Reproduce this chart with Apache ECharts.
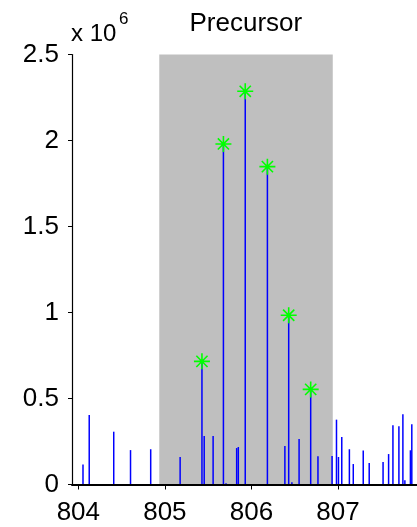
<!DOCTYPE html>
<html>
<head>
<meta charset="utf-8">
<script src="https://cdn.jsdelivr.net/npm/echarts@6/dist/echarts.min.js"></script>
<style>
html,body{margin:0;padding:0;background:#fff;}
#chart{width:417px;height:527px;}
</style>
</head>
<body>
<div id="chart"></div>
<script>
// m/z positions of all centroid peaks
const mz = [804.054, 804.126, 804.409, 804.603, 804.836, 805.176, 805.428, 805.454, 805.557, 805.676,
  805.706, 805.829, 805.848, 805.928, 806.184, 806.386, 806.430, 806.467, 806.550, 806.684,
  806.768, 806.931, 806.982, 807.005, 807.043, 807.131, 807.176, 807.291, 807.360, 807.520,
  807.584, 807.634, 807.703, 807.749, 807.772, 807.836, 807.852];
// intensities of all centroid peaks
const intensity = [117000, 404000, 307000, 200000, 205000, 160000, 716000, 282000, 282000, 1980000,
  7000, 212000, 218000, 2286000, 1848000, 224000, 984000, 13000, 265000, 553000,
  164000, 166000, 377000, 160000, 276000, 205000, 119000, 197000, 125000, 131000,
  177000, 344000, 338000, 408000, 24000, 199000, 350000];
// precursor isotope peaks (marked with asterisks)
const peakMz = [805.428, 805.676, 805.928, 806.184, 806.430, 806.684];
const peakIntensity = [716000, 1980000, 2286000, 1848000, 984000, 553000];
// isolation window
const windowMz = [804.935, 806.939];
// axis ticks
const xTicks = [804, 805, 806, 807];
const yTicks = [0, 500000, 1000000, 1500000, 2000000, 2500000];
const title = 'Precursor';

const font = "'Liberation Sans', Arial, Helvetica, sans-serif";
const chart = echarts.init(document.getElementById('chart'), null, {renderer: 'canvas'});

const stemData = mz.map((m, i) => [m, intensity[i]]);
const starData = peakMz.map((m, i) => [m, peakIntensity[i]]);

chart.setOption({
  animation: false,
  backgroundColor: '#ffffff',
  grid: {left: 72, top: 54.5, width: 348, height: 430},
  xAxis: {
    type: 'value', min: 803.927, max: 807.912, z: 10,
    axisLine: {show: true, onZero: false, lineStyle: {color: '#000', width: 2}},
    axisTick: {show: true, inside: false, length: 5, customValues: xTicks, lineStyle: {color: '#000', width: 1}},
    axisLabel: {customValues: xTicks, margin: 15, fontSize: 26, color: '#000', fontFamily: font,
      formatter: v => String(v)},
    splitLine: {show: false}
  },
  yAxis: {
    type: 'value', min: 0, max: 2500000, interval: 500000, z: 10,
    axisLine: {show: true, lineStyle: {color: '#000', width: 1.2}},
    axisTick: {show: true, inside: false, length: 4, lineStyle: {color: '#000', width: 1}},
    axisLabel: {margin: 13, fontSize: 26, color: '#000', fontFamily: font,
      formatter: v => String(+(v / 1e6).toFixed(1))},
    splitLine: {show: false}
  },
  graphic: [
    {type: 'text', left: 245.5 - 56, top: 11, z: 20,
      style: {text: title, fontSize: 26, fontFamily: font, fill: '#000', textAlign: 'left'}},
    {type: 'text', left: 71, top: 22, z: 20,
      style: {text: 'x 10', fontSize: 24, fontFamily: font, fill: '#000'}},
    {type: 'text', left: 119, top: 11, z: 20,
      style: {text: '6', fontSize: 17, fontFamily: font, fill: '#000'}}
  ],
  series: [
    {
      type: 'line', data: [], z: 1, silent: true,
      markArea: {
        silent: true,
        itemStyle: {color: '#bfbfbf'},
        data: [[{xAxis: windowMz[0], yAxis: 0}, {xAxis: windowMz[1], yAxis: 2500000}]]
      }
    },
    {
      type: 'custom', z: 3, data: stemData, clip: false,
      renderItem: (params, api) => {
        const p0 = api.coord([api.value(0), 0]);
        const p1 = api.coord([api.value(0), api.value(1)]);
        return {type: 'line', shape: {x1: p0[0], y1: p0[1], x2: p1[0], y2: p1[1]},
          style: {stroke: '#0000ff', lineWidth: 1.5}};
      }
    },
    {
      type: 'scatter', z: 4, data: starData, symbolSize: 16,
      symbol: 'path://M0,-1L0,1M-1,0L1,0M-0.7,-0.7L0.7,0.7M-0.7,0.7L0.7,-0.7',
      itemStyle: {color: 'none', borderColor: '#00ff00', borderWidth: 1.6, opacity: 1}
    }
  ]
});
</script>
</body>
</html>
